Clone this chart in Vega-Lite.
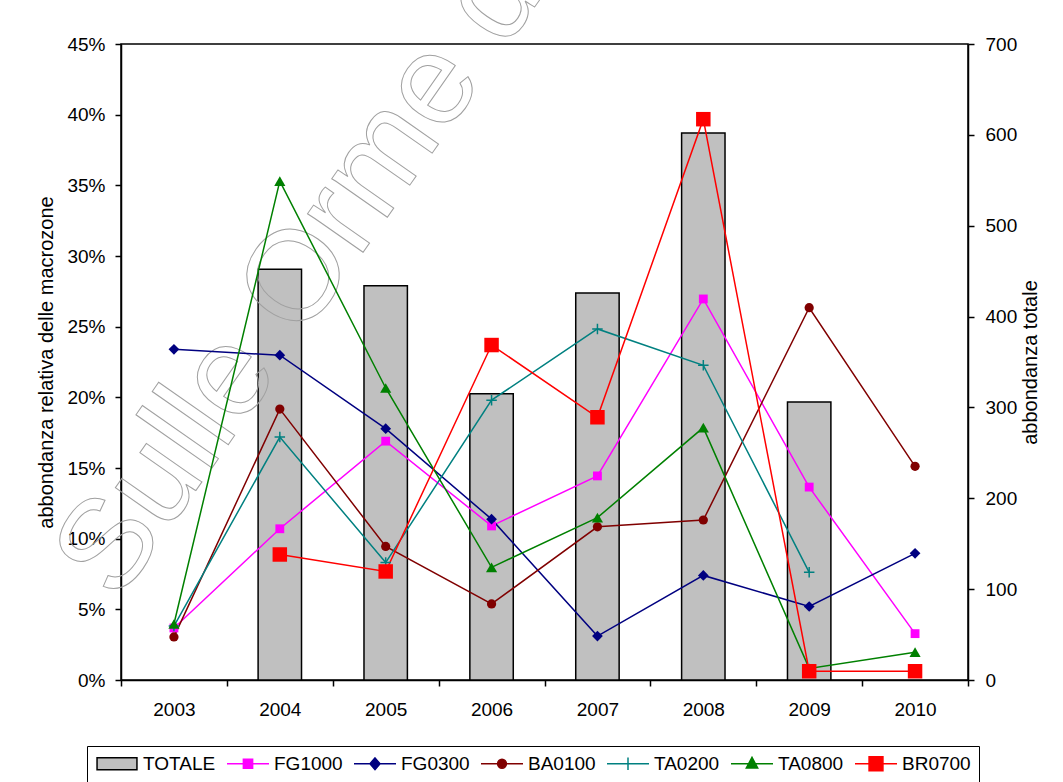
{
  "$schema": "https://vega.github.io/schema/vega-lite/v6.json",
  "width": 847,
  "height": 636,
  "autosize": {"type": "none"},
  "padding": {"left": 121, "top": 44, "right": 95, "bottom": 102},
  "background": "white",
  "config": {
    "font": "Liberation Sans",
    "view": {"stroke": "black", "strokeWidth": 1.5},
    "axis": {
      "labelFont": "Liberation Sans", "labelFontSize": 19, "labelColor": "black",
      "titleFont": "Liberation Sans", "titleFontSize": 20, "titleFontWeight": "normal", "titleColor": "black",
      "domainColor": "black", "domainWidth": 1.5, "tickColor": "black", "tickWidth": 1.5, "tickSize": 6, "grid": false
    },
    "legend": {
      "labelFont": "Liberation Sans", "labelFontSize": 19, "labelColor": "black",
      "title": null, "orient": "none", "legendX": -34, "legendY": 702,
      "direction": "horizontal", "columns": 7,
      "strokeColor": "black", "padding": 8, "columnPadding": 10,
      "symbolSize": 1764, "clipHeight": 19, "labelOffset": 4,
      "symbolStrokeWidth": 1.5, "symbolOpacity": 1
    }
  },
  "datasets": {
    "tot": [
      {"year": "2004", "series": "TOTALE", "value": 452},
      {"year": "2005", "series": "TOTALE", "value": 434},
      {"year": "2006", "series": "TOTALE", "value": 315},
      {"year": "2007", "series": "TOTALE", "value": 426},
      {"year": "2008", "series": "TOTALE", "value": 602},
      {"year": "2009", "series": "TOTALE", "value": 306}
    ],
    "pct": [
      {"year": "2003", "series": "FG1000", "value": 0.0368},
      {"year": "2004", "series": "FG1000", "value": 0.107},
      {"year": "2005", "series": "FG1000", "value": 0.169},
      {"year": "2006", "series": "FG1000", "value": 0.109},
      {"year": "2007", "series": "FG1000", "value": 0.1444},
      {"year": "2008", "series": "FG1000", "value": 0.2696},
      {"year": "2009", "series": "FG1000", "value": 0.1365},
      {"year": "2010", "series": "FG1000", "value": 0.0328},
      {"year": "2003", "series": "FG0300", "value": 0.234},
      {"year": "2004", "series": "FG0300", "value": 0.2298},
      {"year": "2005", "series": "FG0300", "value": 0.1778},
      {"year": "2006", "series": "FG0300", "value": 0.1138},
      {"year": "2007", "series": "FG0300", "value": 0.0311},
      {"year": "2008", "series": "FG0300", "value": 0.074},
      {"year": "2009", "series": "FG0300", "value": 0.052},
      {"year": "2010", "series": "FG0300", "value": 0.0896},
      {"year": "2003", "series": "BA0100", "value": 0.0305},
      {"year": "2004", "series": "BA0100", "value": 0.1917},
      {"year": "2005", "series": "BA0100", "value": 0.0945},
      {"year": "2006", "series": "BA0100", "value": 0.0538},
      {"year": "2007", "series": "BA0100", "value": 0.1084},
      {"year": "2008", "series": "BA0100", "value": 0.1132},
      {"year": "2009", "series": "BA0100", "value": 0.2634},
      {"year": "2010", "series": "BA0100", "value": 0.1512},
      {"year": "2003", "series": "TA0200", "value": 0.0382},
      {"year": "2004", "series": "TA0200", "value": 0.1719},
      {"year": "2005", "series": "TA0200", "value": 0.0831},
      {"year": "2006", "series": "TA0200", "value": 0.198},
      {"year": "2007", "series": "TA0200", "value": 0.2484},
      {"year": "2008", "series": "TA0200", "value": 0.2227},
      {"year": "2009", "series": "TA0200", "value": 0.0762},
      {"year": "2003", "series": "TA0800", "value": 0.0396},
      {"year": "2004", "series": "TA0800", "value": 0.353},
      {"year": "2005", "series": "TA0800", "value": 0.2066},
      {"year": "2006", "series": "TA0800", "value": 0.0797},
      {"year": "2007", "series": "TA0800", "value": 0.1149},
      {"year": "2008", "series": "TA0800", "value": 0.1786},
      {"year": "2009", "series": "TA0800", "value": 0.0082},
      {"year": "2010", "series": "TA0800", "value": 0.0197},
      {"year": "2004", "series": "BR0700", "value": 0.0888},
      {"year": "2005", "series": "BR0700", "value": 0.0768},
      {"year": "2006", "series": "BR0700", "value": 0.237},
      {"year": "2007", "series": "BR0700", "value": 0.1859},
      {"year": "2008", "series": "BR0700", "value": 0.3968},
      {"year": "2009", "series": "BR0700", "value": 0.0062},
      {"year": "2010", "series": "BR0700", "value": 0.0062}
    ],
    "leg": [
      {"series": "TOTALE"}, {"series": "FG1000"}, {"series": "FG0300"}, {"series": "BA0100"},
      {"series": "TA0200"}, {"series": "TA0800"}, {"series": "BR0700"}
    ],
    "wm": [{"label": "Sulle Orme d"}]
  },
  "layer": [
    {
      "data": {"name": "tot"},
      "mark": {"type": "bar", "stroke": "black", "strokeWidth": 1.5, "width": {"band": 0.41}},
      "encoding": {
        "x": {
          "field": "year", "type": "ordinal", "title": null,
          "scale": {"type": "band", "domain": ["2003","2004","2005","2006","2007","2008","2009","2010"], "paddingInner": 0, "paddingOuter": 0},
          "axis": {"tickBand": "extent", "labelAngle": 0, "labelPadding": 14, "title": null}
        },
        "y": {
          "field": "value", "type": "quantitative", "title": "abbondanza totale",
          "scale": {"domain": [0, 700], "nice": false},
          "axis": {"orient": "right", "values": [0,100,200,300,400,500,600,700], "labelPadding": 11, "titlePadding": 4, "titleAngle": 270, "titleBaseline": "top"}
        },
        "color": {
          "field": "series", "type": "nominal", "title": null,
          "scale": {
            "domain": ["TOTALE","FG1000","FG0300","BA0100","TA0200","TA0800","BR0700"],
            "range": ["#C0C0C0","#FF00FF","#000080","#800000","#008080","#008000","#FF0000"]
          }
        }
      }
    },
    {
      "layer": [
        {
          "data": {"name": "wm"},
          "mark": {"type": "text", "angle": -55, "align": "left", "baseline": "alphabetic", "fontSize": 128, "font": "Liberation Sans", "fill": "white", "fillOpacity": 0, "stroke": "#a0a0a0", "strokeWidth": 1, "dx": -99},
          "encoding": {
            "x": {"datum": "2003", "type": "ordinal", "title": null},
            "y": {"datum": 0.1117, "type": "quantitative", "title": "abbondanza relativa delle macrozone"},
            "text": {"field": "label"}
          }
        },
        {
          "data": {"name": "pct"},
          "mark": {"type": "line", "strokeWidth": 1.5},
          "encoding": {
            "x": {"field": "year", "type": "ordinal", "title": null},
            "y": {
              "field": "value", "type": "quantitative", "title": "abbondanza relativa delle macrozone",
              "scale": {"domain": [0, 0.45], "nice": false},
              "axis": {"orient": "left", "values": [0,0.05,0.1,0.15,0.2,0.25,0.3,0.35,0.4,0.45], "format": ".0%", "labelPadding": 10, "titlePadding": 10}
            },
            "stroke": {"field": "series", "type": "nominal", "title": null}
          }
        },
        {
          "data": {"name": "pct"},
          "transform": [{"filter": "datum.series == 'FG1000'"}],
          "mark": {"type": "point", "shape": "square", "filled": true, "opacity": 1, "size": 78},
          "encoding": {
            "x": {"field": "year", "type": "ordinal", "title": null},
            "y": {"field": "value", "type": "quantitative", "title": "abbondanza relativa delle macrozone"},
            "color": {"field": "series", "type": "nominal", "title": null}
          }
        },
        {
          "data": {"name": "pct"},
          "transform": [{"filter": "datum.series == 'FG0300'"}],
          "mark": {"type": "point", "shape": "diamond", "filled": true, "opacity": 1, "size": 115},
          "encoding": {
            "x": {"field": "year", "type": "ordinal", "title": null},
            "y": {"field": "value", "type": "quantitative", "title": "abbondanza relativa delle macrozone"},
            "color": {"field": "series", "type": "nominal", "title": null}
          }
        },
        {
          "data": {"name": "pct"},
          "transform": [{"filter": "datum.series == 'BA0100'"}],
          "mark": {"type": "point", "shape": "circle", "filled": true, "opacity": 1, "size": 85},
          "encoding": {
            "x": {"field": "year", "type": "ordinal", "title": null},
            "y": {"field": "value", "type": "quantitative", "title": "abbondanza relativa delle macrozone"},
            "color": {"field": "series", "type": "nominal", "title": null}
          }
        },
        {
          "data": {"name": "pct"},
          "transform": [{"filter": "datum.series == 'TA0200'"}],
          "mark": {"type": "point", "shape": "M-1,0H1M0,-1V1", "filled": false, "opacity": 1, "size": 110, "strokeWidth": 1.5},
          "encoding": {
            "x": {"field": "year", "type": "ordinal", "title": null},
            "y": {"field": "value", "type": "quantitative", "title": "abbondanza relativa delle macrozone"},
            "stroke": {"field": "series", "type": "nominal", "title": null}
          }
        },
        {
          "data": {"name": "pct"},
          "transform": [{"filter": "datum.series == 'TA0800'"}],
          "mark": {"type": "point", "shape": "triangle-up", "filled": true, "opacity": 1, "size": 125},
          "encoding": {
            "x": {"field": "year", "type": "ordinal", "title": null},
            "y": {"field": "value", "type": "quantitative", "title": "abbondanza relativa delle macrozone"},
            "color": {"field": "series", "type": "nominal", "title": null}
          }
        },
        {
          "data": {"name": "pct"},
          "transform": [{"filter": "datum.series == 'BR0700'"}],
          "mark": {"type": "point", "shape": "square", "filled": true, "opacity": 1, "size": 210},
          "encoding": {
            "x": {"field": "year", "type": "ordinal", "title": null},
            "y": {"field": "value", "type": "quantitative", "title": "abbondanza relativa delle macrozone"},
            "color": {"field": "series", "type": "nominal", "title": null}
          }
        },
        {
          "data": {"name": "leg"},
          "mark": {"type": "point", "filled": true, "opacity": 0, "strokeWidth": 1.5},
          "encoding": {
            "x": {"datum": "2003", "type": "ordinal", "title": null},
            "y": {"datum": 0, "type": "quantitative", "title": "abbondanza relativa delle macrozone"},
            "color": {"field": "series", "type": "nominal", "title": null},
            "shape": {
              "field": "series", "type": "nominal", "title": null,
              "scale": {
                "domain": ["TOTALE","FG1000","FG0300","BA0100","TA0200","TA0800","BR0700"],
                "range": [
                  "M-0.95,-0.29H0.95V0.29H-0.95Z",
                  "M-1,0H1M-0.22,-0.22H0.22V0.22H-0.22Z",
                  "M-1,0H1M0,-0.28L0.24,0L0,0.28L-0.24,0Z",
                  "M-1,0H1M0.21,0A0.21,0.21,0,1,1,-0.21,0A0.21,0.21,0,1,1,0.21,0Z",
                  "M-1,0H1M0,-0.3V0.3",
                  "M-1,0H1M0,-0.3L0.27,0.2H-0.27Z",
                  "M-1,0H1M-0.33,-0.33H0.33V0.33H-0.33Z"
                ]
              }
            },
            "stroke": {
              "field": "series", "type": "nominal", "title": null,
              "scale": {
                "domain": ["TOTALE","FG1000","FG0300","BA0100","TA0200","TA0800","BR0700"],
                "range": ["#000000","#FF00FF","#000080","#800000","#008080","#008000","#FF0000"]
              }
            }
          }
        }
      ]
    }
  ],
  "resolve": {"scale": {"y": "independent"}, "axis": {"y": "independent"}}
}
